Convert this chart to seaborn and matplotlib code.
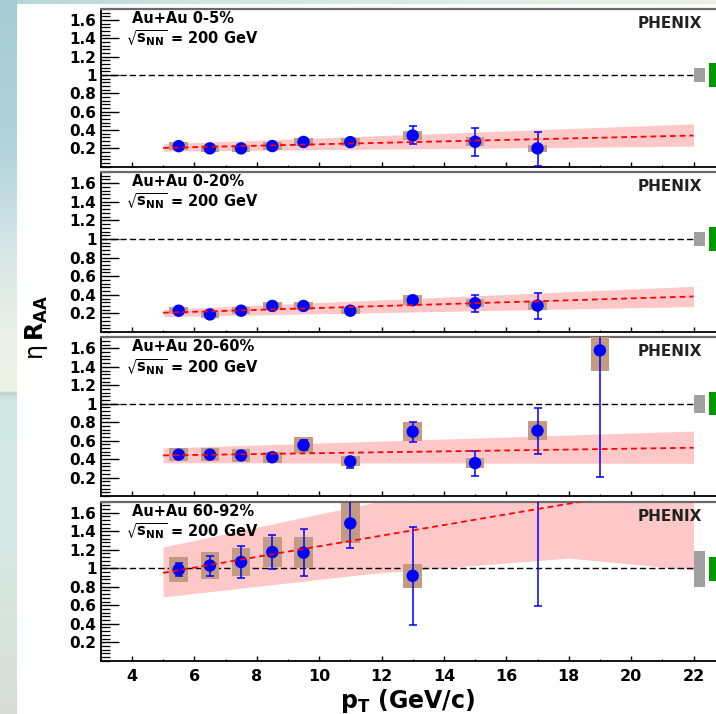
import numpy as np
import pandas as pd
import matplotlib
matplotlib.use("Agg")
import matplotlib.pyplot as plt
import seaborn as sns
from matplotlib.ticker import MultipleLocator, FixedLocator

sns.set_theme(style="ticks")
plt.rcParams["font.family"] = ["DejaVu Sans"]
plt.rcParams["font.weight"] = "bold"
plt.rcParams["mathtext.fontset"] = "dejavusans"

# ---------------- data ----------------
centralities = ["Au+Au 0-5%", "Au+Au 0-20%", "Au+Au 20-60%", "Au+Au 60-92%"]

pt_0005 = [5.5, 6.5, 7.5, 8.5, 9.5, 11, 13, 15, 17]
raa_0005 = [0.224, 0.200, 0.200, 0.225, 0.270, 0.268, 0.340, 0.272, 0.200]
stat_lo_0005 = [0.015, 0.015, 0.015, 0.015, 0.015, 0.015, 0.097, 0.152, 0.19]
stat_hi_0005 = [0.015, 0.015, 0.015, 0.015, 0.015, 0.015, 0.100, 0.152, 0.18]
sys_0005 = [0.040, 0.035, 0.035, 0.040, 0.045, 0.045, 0.045, 0.050, 0.040]

pt_0020 = [5.5, 6.5, 7.5, 8.5, 9.5, 11, 13, 15, 17]
raa_0020 = [0.229, 0.189, 0.229, 0.280, 0.280, 0.229, 0.342, 0.309, 0.284]
stat_lo_0020 = [0.015, 0.015, 0.015, 0.015, 0.015, 0.015, 0.030, 0.098, 0.139]
stat_hi_0020 = [0.015, 0.015, 0.015, 0.015, 0.015, 0.015, 0.030, 0.087, 0.134]
sys_0020 = [0.040, 0.040, 0.040, 0.045, 0.045, 0.040, 0.051, 0.045, 0.050]

pt_2060 = [5.5, 6.5, 7.5, 8.5, 9.5, 11, 13, 15, 17, 19]
raa_2060 = [0.448, 0.448, 0.440, 0.420, 0.550, 0.375, 0.697, 0.357, 0.708, 1.578]
stat_lo_2060 = [0.02, 0.02, 0.02, 0.02, 0.05, 0.07, 0.112, 0.144, 0.253, 1.372]
stat_hi_2060 = [0.02, 0.02, 0.02, 0.02, 0.06, 0.04, 0.103, 0.130, 0.245, 0.200]
sys_2060 = [0.067, 0.068, 0.072, 0.058, 0.085, 0.054, 0.100, 0.054, 0.100, 0.220]

pt_6092 = [5.5, 6.5, 7.5, 8.5, 9.5, 11, 13, 17]
raa_6092 = [0.986, 1.029, 1.068, 1.175, 1.168, 1.486, 0.918, 2.000]
stat_lo_6092 = [0.065, 0.108, 0.168, 0.182, 0.247, 0.268, 0.529, 1.407]
stat_hi_6092 = [0.071, 0.107, 0.168, 0.182, 0.257, 0.250, 0.525, 0.500]
sys_6092 = [0.138, 0.142, 0.150, 0.163, 0.165, 0.216, 0.127, 0.250]

# power-law fits with their uncertainty bands
fit_x = [5, 22]
fit_0005 = [0.205, 0.340]
fit_0020 = [0.207, 0.382]
fit_2060 = [0.440, 0.523]
fit_6092 = [0.950, 1.928]

band_x_0005 = [5, 22]
band_lo_0005 = [0.170, 0.224]
band_hi_0005 = [0.250, 0.467]
band_x_0020 = [5, 22]
band_lo_0020 = [0.164, 0.273]
band_hi_0020 = [0.244, 0.491]
band_x_2060 = [5, 22]
band_lo_2060 = [0.360, 0.354]
band_hi_2060 = [0.520, 0.704]
band_x_6092 = [5, 11.6, 18, 22]
band_lo_6092 = [0.690, 0.940, 1.110, 0.980]
band_hi_6092 = [1.230, 1.700, 2.160, 2.450]

# global normalisation uncertainties (Ncoll: grey, p+p: green)
ncoll_lo = [0.073, 0.076, 0.097, 0.200]
ncoll_hi = [0.080, 0.076, 0.097, 0.182]
pp_lo = [0.127, 0.130, 0.126, 0.139]
pp_hi = [0.127, 0.130, 0.126, 0.121]

panels = [
    (pt_0005, raa_0005, stat_lo_0005, stat_hi_0005, sys_0005, fit_0005, band_x_0005, band_lo_0005, band_hi_0005),
    (pt_0020, raa_0020, stat_lo_0020, stat_hi_0020, sys_0020, fit_0020, band_x_0020, band_lo_0020, band_hi_0020),
    (pt_2060, raa_2060, stat_lo_2060, stat_hi_2060, sys_2060, fit_2060, band_x_2060, band_lo_2060, band_hi_2060),
    (pt_6092, raa_6092, stat_lo_6092, stat_hi_6092, sys_6092, fit_6092, band_x_6092, band_lo_6092, band_hi_6092),
]

# ---------------- figure ----------------
W, H = 716, 714
fig = plt.figure(figsize=(W / 100, H / 100), dpi=100)
fig.patch.set_facecolor("white")

# slide-style background: teal strip on the left and along the top
bg = np.full((H, W, 3), 255.0)
rows = np.arange(H)
ky = [0, 150, 250, 330, 390, 393, 396, 400, 550, 714]
kc = [(165, 204, 214), (178, 212, 219), (214, 231, 231), (232, 240, 228),
      (238, 243, 228), (190, 208, 202), (200, 226, 222), (208, 232, 228),
      (212, 232, 226), (215, 222, 212)]
for c in range(3):
    bg[:, :17, c] = np.interp(rows, ky, [k[c] for k in kc])[:, None]
cols = np.arange(W)
kx = [0, 200, 500, 716]
kt = [(178, 214, 216), (205, 230, 222), (222, 238, 228), (235, 240, 232)]
for c in range(3):
    bg[:4, 17:, c] = np.interp(cols[17:], kx, [k[c] for k in kt])[None, :]
ax_bg = fig.add_axes([0, 0, 1, 1], zorder=-10)
ax_bg.imshow(bg.astype(np.uint8), aspect="auto", interpolation="bilinear")
ax_bg.axis("off")

tops = [9, 172, 337.3, 501.7]
bottoms = [166.7, 332, 496, 660.7]
x_left_px = 100.7
px_per_unit = 31.2
xmin, xmax = 3, 23
width_frac = (xmax - xmin) * px_per_unit / W

band_color = "#ffc8c8"
sys_color = "#c39b82"

axes = []
for i, (x, y, slo, shi, sysu, fit_y, bx, blo, bhi) in enumerate(panels):
    ax = fig.add_axes([x_left_px / W, 1 - bottoms[i] / H, width_frac,
                       (bottoms[i] - tops[i]) / H])
    ax.set_facecolor("white")
    axes.append(ax)

    # fit uncertainty band
    ax.fill_between(bx, blo, bhi, color=band_color, lw=0, zorder=1)

    # unity reference
    ax.plot([xmin, 22], [1, 1], color="black", lw=1.0,
            linestyle=(0, (4.5, 2.3)), zorder=2)

    # point-to-point systematic boxes
    ys = np.asarray(y)
    ss = np.asarray(sysu)
    ax.bar(x, 2 * ss, bottom=ys - ss, width=0.6, color=sys_color, lw=0, zorder=3)

    # global normalisation boxes
    ax.bar([22.18], [ncoll_lo[i] + ncoll_hi[i]], bottom=[1 - ncoll_lo[i]],
           width=0.36, color="#a0a0a0", lw=0, zorder=3)
    ax.bar([22.68], [pp_lo[i] + pp_hi[i]], bottom=[1 - pp_lo[i]],
           width=0.36, color="#009a00", lw=0, zorder=3)

    # statistical errors and points
    ax.errorbar(x, y, yerr=[slo, shi], fmt="none", ecolor="blue",
                elinewidth=1.1, capsize=2.6, capthick=1.1, zorder=4)
    df = pd.DataFrame({"pt": x, "raa": y})
    sns.scatterplot(data=df, x="pt", y="raa", ax=ax, color="blue", s=80,
                    edgecolor="none", marker="o", zorder=5, legend=False)

    # fit curve
    dfit = pd.DataFrame({"pt": fit_x, "raa": fit_y})
    sns.lineplot(data=dfit, x="pt", y="raa", ax=ax, color="red", lw=1.3,
                 linestyle=(0, (3.2, 2.2)), zorder=6, legend=False)

    ax.set_xlim(xmin, xmax)
    ax.set_ylim(0, 1.72)
    ax.set_xlabel("")
    ax.set_ylabel("")

    ax.yaxis.set_major_locator(FixedLocator([0.2, 0.4, 0.6, 0.8, 1.0, 1.2, 1.4, 1.6]))
    ax.set_yticklabels(["0.2", "0.4", "0.6", "0.8", "1", "1.2", "1.4", "1.6"])
    ax.yaxis.set_minor_locator(MultipleLocator(0.04))
    ax.xaxis.set_major_locator(FixedLocator(list(range(4, 23, 2))))
    ax.xaxis.set_minor_locator(MultipleLocator(1))

    ax.tick_params(axis="y", which="major", direction="in", length=13,
                   width=1.0, color="black", labelsize=11, pad=3,
                   left=True, right=False)
    ax.tick_params(axis="y", which="minor", direction="in", length=6.5,
                   width=0.9, color="black", left=True, right=False)
    ax.tick_params(axis="x", which="major", direction="in", length=3.3,
                   width=1.0, color="black", labelsize=11.5, pad=6,
                   bottom=True, top=False, labelbottom=(i == 3))
    ax.tick_params(axis="x", which="minor", direction="in", length=1.8,
                   width=0.9, color="black", bottom=True, top=False)
    for lab in ax.get_xticklabels() + ax.get_yticklabels():
        lab.set_fontweight("bold")
        lab.set_color("black")

    for side in ["left", "bottom"]:
        ax.spines[side].set_color("black")
        ax.spines[side].set_linewidth(1.3)
    ax.spines["top"].set_color("#6a6a6a")
    ax.spines["top"].set_linewidth(1.6)
    ax.spines["right"].set_color("#6a6a6a")

    tr = ax.get_xaxis_transform()
    ax.text(4.0, 0.94, centralities[i], transform=tr, ha="left", va="center",
            fontsize=10.5, fontweight="bold", color="black")
    ax.text(3.8, 0.815, r"$\sqrt{\mathbf{s}_{\mathbf{NN}}}$ = 200 GeV",
            transform=tr, ha="left", va="center", fontsize=10.5,
            fontweight="bold", color="black")
    ax.text(21.25, 0.91, "PHENIX", transform=tr, ha="center", va="center",
            fontsize=11, fontweight="bold", color="#222222")

# axis titles
axes[-1].set_xlabel(r"$\mathbf{p}_{\mathbf{T}}$ (GeV/c)", fontsize=17,
                    fontweight="bold", color="black")
axes[-1].xaxis.label.set_va("center")
axes[-1].xaxis.set_label_coords((408 - x_left_px) / (px_per_unit * (xmax - xmin)),
                                -(701 - bottoms[3]) / (bottoms[3] - tops[3]))

fig.text(36 / W, 1 - 328 / H, "η" + r"$\,\mathbf{R}_{\mathbf{AA}}$",
         rotation=90, ha="center", va="center", fontsize=17,
         fontweight="normal", color="black")

fig.savefig("out.png", dpi=100)
